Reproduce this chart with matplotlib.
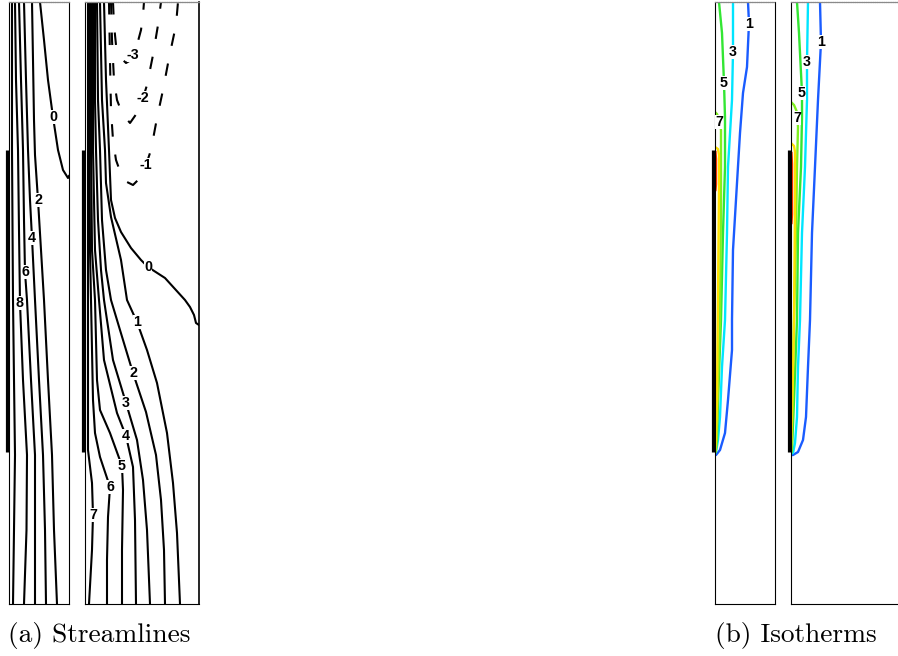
import matplotlib
matplotlib.use('Agg')
import matplotlib.pyplot as plt

plt.rcParams['lines.scale_dashes'] = False

# ---------------- domain (length units) ----------------
H = 602                 # channel height
W_narrow = 60           # narrow channel width
W_wide = 114            # wide channel width
heater = (152, 454)     # heated segment on the left wall

# ---------------- (a) streamlines, narrow channel ----------------
a1_labels = ['0', '2', '4', '6', '8', None]
a1_x = [
    [31, 35, 39, 44, 49, 54, 59, 60],
    [23, 24, 25, 26, 29, 32, 35, 39, 43, 45, 48],
    [15, 17, 19, 21, 23, 26, 30, 34, 36, 37],
    [10, 12, 14, 15, 16, 18, 22, 26, 26, 26],
    [6, 7, 9, 10, 11, 14, 18, 17.5, 15],
    [3, 3, 4, 5, 6, 5, 4],
]
a1_y = [
    [602, 564, 524, 487, 454, 434, 426, 428],
    [602, 544, 484, 449, 404, 354, 304, 224, 149, 74, 0],
    [602, 524, 454, 404, 366, 304, 224, 149, 74, 0],
    [602, 524, 454, 384, 332, 304, 224, 149, 74, 0],
    [602, 524, 454, 374, 301, 224, 149, 74, 0],
    [602, 454, 304, 224, 149, 74, 0],
]
a1_lab_x = [44, 29, 23, 16, 11]
a1_lab_y = [487, 404, 366, 332, 301]

# ---------------- (a) streamlines, wide channel ----------------
a2_labels = ['0', '1', '2', '3', '4', '5', '6', '7']
a2_x = [
    [19, 21, 24, 26, 30, 36, 46, 56, 63, 80, 100, 105, 109, 111, 114],
    [15, 17, 20, 21, 26, 36, 42, 52, 62, 72, 82, 88, 92, 95],
    [12, 13, 15, 17, 21, 26, 35, 48, 61, 71, 76, 79, 80],
    [10, 10, 11, 13, 16, 19, 28, 41, 52, 58, 62, 65],
    [8, 8, 8, 10, 14, 19, 32, 41, 48, 50, 51],
    [6, 6, 7, 10, 12, 15, 25, 37, 38, 37, 37],
    [4.5, 4.5, 5, 6, 8, 10, 15, 25, 23, 22, 22],
    [3, 3, 3, 7, 8, 7, 4],
]
a2_y = [
    [602, 524, 454, 404, 386, 372, 356, 344, 337, 326, 304, 297, 289, 281, 279],
    [602, 504, 454, 421, 387, 344, 304, 282, 254, 221, 171, 121, 71, 0],
    [602, 504, 454, 384, 334, 304, 274, 231, 192, 149, 104, 54, 0],
    [602, 504, 454, 384, 334, 304, 244, 201, 164, 124, 74, 0],
    [602, 504, 454, 354, 304, 244, 191, 168, 137, 84, 0],
    [602, 454, 354, 304, 224, 194, 171, 138, 114, 54, 0],
    [602, 454, 354, 304, 204, 171, 147, 117, 87, 44, 0],
    [602, 304, 154, 121, 89, 54, 0],
]
a2_lab_x = [63, 52, 48, 41, 41, 37, 25, 8]
a2_lab_y = [337, 282, 231, 201, 168, 138, 117, 89]

a2n_labels = ['-1', '-2', '-3']
a2n_x = [
    [24, 25, 26, 28, 31, 36, 42, 48, 55, 61, 66, 72, 78, 84, 91, 93],
    [26, 27, 29, 32, 37, 45, 52, 58, 62, 68, 73, 76],
    [28, 29, 31, 35, 41, 46, 48, 52, 56, 58, 59],
]
a2n_y = [
    [602, 544, 494, 464, 444, 430, 422, 419, 426, 439, 454, 486, 514, 546, 579, 602],
    [602, 564, 524, 504, 491, 481, 491, 506, 519, 549, 579, 602],
    [602, 579, 559, 547, 541, 544, 549, 559, 574, 589, 602],
]
a2n_lab_x = [61, 58, 48]
a2n_lab_y = [439, 506, 549]

# ---------------- (b) isotherms ----------------
b_levels = ['1', '3', '5', '7', '9', '11']
b_colors = ['#1a5cff', '#00e5ff', '#33e633', '#80f020', '#ffe000', '#ff3300']

b1_x = [
    [33, 34, 32, 28, 25, 22, 18, 17, 17, 13, 10, 5, 1, 0],
    [18, 18, 17, 13, 12, 10, 7, 5, 3, 1, 0],
    [4, 7, 9, 10, 10, 8, 6, 3, 2, 0.5],
    [0, 2, 4, 6, 6, 5, 2, 1, 0],
    [0, 3, 4, 4, 3, 2, 1, 0],
    [0.5, 1, 1, 0.5],
]
b1_y = [
    [602, 581, 537, 511, 471, 421, 354, 284, 254, 204, 171, 154, 149, 149],
    [602, 552, 504, 437, 371, 284, 237, 187, 164, 152, 151],
    [602, 571, 521, 487, 437, 371, 284, 204, 164, 152],
    [492, 490, 485, 474, 404, 284, 184, 154, 152],
    [457, 455, 449, 424, 304, 204, 164, 152],
    [452, 445, 420, 414],
]
b1_lab = ['1', '3', '5', '7']
b1_lab_x = [34, 18, 9, 4]
b1_lab_y = [580, 552, 521, 482]

b2_x = [
    [29, 30, 27, 24, 21, 19, 17, 15, 12, 7, 2, 0],
    [17, 16, 16, 14, 11, 9, 7, 6, 4, 2, 0],
    [6, 8, 11, 11, 10, 7, 6, 3, 1, 0],
    [0, 3, 6, 7, 6, 5, 3, 1, 0],
    [0, 3, 4, 4, 3, 1, 0],
    [0.5, 1, 1, 0.5],
]
b2_y = [
    [602, 562, 504, 437, 371, 284, 237, 187, 164, 152, 149, 149],
    [602, 542, 504, 437, 371, 284, 237, 187, 161, 151, 150],
    [602, 571, 511, 487, 437, 371, 284, 204, 154, 151],
    [502, 499, 492, 477, 437, 371, 284, 184, 152],
    [461, 458, 452, 404, 284, 184, 152],
    [451, 440, 390, 381],
]
b2_lab = ['1', '3', '5', '7']
b2_lab_x = [30, 16, 11, 6]
b2_lab_y = [562, 542, 511, 486]

captions = ['(a) Streamlines', '(b) Isotherms']

# ---------------- figure ----------------
FW, FH = 898, 656
fig = plt.figure(figsize=(FW / 100, FH / 100), dpi=100)


def make_ax(left_px, width):
    ax = fig.add_axes([left_px / FW, 52 / FH, width / FW, H / FH])
    ax.set_xlim(0, width)
    ax.set_ylim(0, H)
    ax.set_xticks([])
    ax.set_yticks([])
    for s in ['left', 'right', 'bottom']:
        ax.spines[s].set_linewidth(0.8)
        ax.spines[s].set_color('black')
    ax.spines['top'].set_linewidth(0.9)
    ax.spines['top'].set_color('#8a8a8a')
    ax.spines['top'].set_linestyle((0, (1, 0.6)))
    # heated wall segment
    ax.plot([-1.6, -1.6], list(heater), color='black', lw=2.3,
            solid_capstyle='butt', clip_on=False, zorder=5)
    return ax


def label(ax, txt, x, y):
    ax.text(x, y, txt, ha='center', va='center', fontsize=10.3,
            fontweight='bold', family='Liberation Sans', zorder=6,
            bbox=dict(fc='white', ec='none', pad=0.1))


LW = 1.5

ax1 = make_ax(9, W_narrow)
for xs, ys in zip(a1_x, a1_y):
    ax1.plot(xs, ys, color='black', lw=LW, solid_joinstyle='round')
for t, x, y in zip(a1_labels, a1_lab_x, a1_lab_y):
    label(ax1, t, x, y)

ax2 = make_ax(85, W_wide)
ax2.spines['right'].set_linewidth(1.2)
for xs, ys in zip(a2_x, a2_y):
    ax2.plot(xs, ys, color='black', lw=LW, solid_joinstyle='round')
for xs, ys in zip(a2n_x, a2n_y):
    ax2.plot(xs, ys, color='black', lw=LW, linestyle=(0, (9, 13)),
             dash_capstyle='butt')
for t, x, y in zip(a2_labels, a2_lab_x, a2_lab_y):
    label(ax2, t, x, y)
for t, x, y in zip(a2n_labels, a2n_lab_x, a2n_lab_y):
    label(ax2, t, x, y)

ax3 = make_ax(715, W_narrow)
for xs, ys, c in zip(b1_x, b1_y, b_colors):
    ax3.plot(xs, ys, color=c, lw=LW + 0.2, solid_joinstyle='round')
for t, x, y in zip(b1_lab, b1_lab_x, b1_lab_y):
    label(ax3, t, x, y)

ax4 = make_ax(791, W_wide)
for xs, ys, c in zip(b2_x, b2_y, b_colors):
    ax4.plot(xs, ys, color=c, lw=LW + 0.2, solid_joinstyle='round')
for t, x, y in zip(b2_lab, b2_lab_x, b2_lab_y):
    label(ax4, t, x, y)

fig.text(8 / FW, 1 - 642 / FH, captions[0], family='cmr10', fontsize=19.7,
         ha='left', va='baseline')
fig.text(715 / FW, 1 - 642 / FH, captions[1], family='cmr10', fontsize=19.7,
         ha='left', va='baseline')

fig.savefig('out.png', dpi=100)
